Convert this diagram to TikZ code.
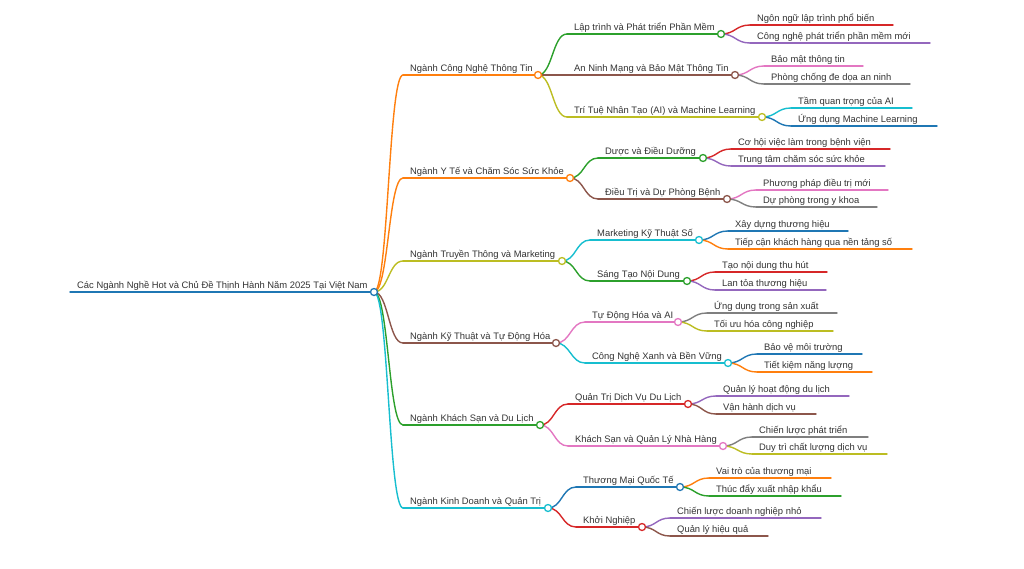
\documentclass[tikz,border=0pt]{standalone}
\usepackage{fontspec}
\setmainfont{Liberation Sans}
\usetikzlibrary{calc}
\pgfdeclarelayer{bg}
\pgfsetlayers{bg,main}
\definecolor{cblue}{HTML}{1F77B4}
\definecolor{corange}{HTML}{FF7F0E}
\definecolor{cgreen}{HTML}{2CA02C}
\definecolor{cred}{HTML}{D62728}
\definecolor{cpurple}{HTML}{9467BD}
\definecolor{cbrown}{HTML}{8C564B}
\definecolor{cpink}{HTML}{E377C2}
\definecolor{cgray}{HTML}{7F7F7F}
\definecolor{colive}{HTML}{BCBD22}
\definecolor{ccyan}{HTML}{17BECF}
\definecolor{ctext}{HTML}{333333}
\tikzset{
  lbl/.style={anchor=base west, inner sep=0pt, font=\fontsize{9.4}{11}\selectfont, text=ctext},
  edge/.style={line width=1.4pt, line cap=round},
  knob/.style={circle, fill=white, line width=1.3pt, minimum size=7pt, inner sep=0pt},
}
\newcommand\mmnode[6]{%
  \coordinate (#1s) at ({#3-7},#4);
  \coordinate (#1e) at (#5,#4);
  \node[lbl] (#1) at (#3,{#4-3.5}) {#6};
  \begin{pgfonlayer}{bg}\draw[edge,draw=#2] (#1s) -- (#1e);\end{pgfonlayer}}
\newcommand\mmknob[2]{\node[knob,draw=#2] (#1k) at (#1e) {};}
\newcommand\mmlink[3]{%
  \begin{pgfonlayer}{bg}\draw[edge,draw=#3] let \p1=(#1k.center), \p2=(#2s) in (\p1) .. controls ({0.5*\x1+0.5*\x2},\y1) and ({0.5*\x1+0.5*\x2},\y2) .. (\p2);\end{pgfonlayer}}
\begin{document}
\begin{tikzpicture}[x=1pt,y=-1pt]
\useasboundingbox (0,0) rectangle (1024,568);
% root
\mmnode{r}{cblue}{77}{292}{374}{Các Ngành Nghề Hot và Chủ Đề Thịnh Hành Năm 2025 Tại Việt Nam}
\mmknob{r}{cblue}
% level 1
\mmnode{a}{corange}{410}{75}{538}{Ngành Công Nghệ Thông Tin}\mmknob{a}{corange}
\mmnode{b}{corange}{410}{178}{570}{Ngành Y Tế và Chăm Sóc Sức Khỏe}\mmknob{b}{corange}
\mmnode{c}{colive}{410}{261}{562}{Ngành Truyền Thông và Marketing}\mmknob{c}{colive}
\mmnode{d}{cbrown}{410}{343}{556}{Ngành Kỹ Thuật và Tự Động Hóa}\mmknob{d}{cbrown}
\mmnode{e}{cgreen}{410}{425}{540}{Ngành Khách Sạn và Du Lịch}\mmknob{e}{cgreen}
\mmnode{f}{ccyan}{410}{508}{548}{Ngành Kinh Doanh và Quản Trị}\mmknob{f}{ccyan}
\mmlink{r}{a}{corange}\mmlink{r}{b}{corange}\mmlink{r}{c}{colive}
\mmlink{r}{d}{cbrown}\mmlink{r}{e}{cgreen}\mmlink{r}{f}{ccyan}
% level 2
\mmnode{aa}{cgreen}{574}{34}{721}{Lập trình và Phát triển Phần Mềm}\mmknob{aa}{cgreen}
\mmnode{ab}{cbrown}{574}{75}{735}{An Ninh Mạng và Bảo Mật Thông Tin}\mmknob{ab}{cbrown}
\mmnode{ac}{colive}{574}{117}{762}{Trí Tuệ Nhân Tạo (AI) và Machine Learning}\mmknob{ac}{colive}
\mmlink{a}{aa}{cgreen}\mmlink{a}{ab}{cbrown}\mmlink{a}{ac}{colive}
\mmnode{ba}{cgreen}{605}{158}{703}{Dược và Điều Dưỡng}\mmknob{ba}{cgreen}
\mmnode{bb}{cbrown}{605}{199}{727}{Điều Trị và Dự Phòng Bệnh}\mmknob{bb}{cbrown}
\mmlink{b}{ba}{cgreen}\mmlink{b}{bb}{cbrown}
\mmnode{ca}{ccyan}{597}{240}{699}{Marketing Kỹ Thuật Số}\mmknob{ca}{ccyan}
\mmnode{cb}{cgreen}{597}{281}{687}{Sáng Tạo Nội Dung}\mmknob{cb}{cgreen}
\mmlink{c}{ca}{ccyan}\mmlink{c}{cb}{cgreen}
\mmnode{da}{cpink}{592}{322}{678}{Tự Động Hóa và AI}\mmknob{da}{cpink}
\mmnode{db}{ccyan}{592}{363}{728}{Công Nghệ Xanh và Bền Vững}\mmknob{db}{ccyan}
\mmlink{d}{da}{cpink}\mmlink{d}{db}{ccyan}
\mmnode{ea}{cred}{575}{404}{688}{Quản Trị Dịch Vụ Du Lịch}\mmknob{ea}{cred}
\mmnode{eb}{cpink}{575}{446}{723}{Khách Sạn và Quản Lý Nhà Hàng}\mmknob{eb}{cpink}
\mmlink{e}{ea}{cred}\mmlink{e}{eb}{cpink}
\mmnode{fa}{cblue}{583}{487}{680}{Thương Mại Quốc Tế}\mmknob{fa}{cblue}
\mmnode{fb}{cred}{583}{527}{642}{Khởi Nghiệp}\mmknob{fb}{cred}
\mmlink{f}{fa}{cblue}\mmlink{f}{fb}{cred}
% level 3
\mmnode{aaa}{cred}{757}{25}{893}{Ngôn ngữ lập trình phổ biến}
\mmnode{aab}{cpurple}{757}{43}{930}{Công nghệ phát triển phần mềm mới}
\mmlink{aa}{aaa}{cred}\mmlink{aa}{aab}{cpurple}
\mmnode{aba}{cpink}{771}{66}{863}{Bảo mật thông tin}
\mmnode{abb}{cgray}{771}{84}{910}{Phòng chống đe dọa an ninh}
\mmlink{ab}{aba}{cpink}\mmlink{ab}{abb}{cgray}
\mmnode{aca}{ccyan}{798}{108}{912}{Tầm quan trọng của AI}
\mmnode{acb}{cblue}{798}{126}{937}{Ứng dụng Machine Learning}
\mmlink{ac}{aca}{ccyan}\mmlink{ac}{acb}{cblue}
\mmnode{baa}{cred}{738}{149}{890}{Cơ hội việc làm trong bệnh viện}
\mmnode{bab}{cpurple}{738}{166}{885}{Trung tâm chăm sóc sức khỏe}
\mmlink{ba}{baa}{cred}\mmlink{ba}{bab}{cpurple}
\mmnode{bba}{cpink}{763}{190}{888}{Phương pháp điều trị mới}
\mmnode{bbb}{cgray}{763}{207}{877}{Dự phòng trong y khoa}
\mmlink{bb}{bba}{cpink}\mmlink{bb}{bbb}{cgray}
\mmnode{caa}{cblue}{735}{231}{848}{Xây dựng thương hiệu}
\mmnode{cab}{corange}{735}{249}{912}{Tiếp cận khách hàng qua nền tảng số}
\mmlink{ca}{caa}{cblue}\mmlink{ca}{cab}{corange}
\mmnode{cba}{cred}{722}{272}{827}{Tạo nội dung thu hút}
\mmnode{cbb}{cpurple}{722}{290}{826}{Lan tỏa thương hiệu}
\mmlink{cb}{cba}{cred}\mmlink{cb}{cbb}{cpurple}
\mmnode{daa}{cgray}{714}{313}{837}{Ứng dụng trong sản xuất}
\mmnode{dab}{colive}{714}{331}{833}{Tối ưu hóa công nghiệp}
\mmlink{da}{daa}{cgray}\mmlink{da}{dab}{colive}
\mmnode{dba}{cblue}{764}{354}{862}{Bảo vệ môi trường}
\mmnode{dbb}{corange}{764}{372}{872}{Tiết kiệm năng lượng}
\mmlink{db}{dba}{cblue}\mmlink{db}{dbb}{corange}
\mmnode{eaa}{cpurple}{723}{396}{849}{Quản lý hoạt động du lịch}
\mmnode{eab}{cbrown}{723}{414}{816}{Vận hành dịch vụ}
\mmlink{ea}{eaa}{cpurple}\mmlink{ea}{eab}{cbrown}
\mmnode{eba}{cgray}{759}{437}{868}{Chiến lược phát triển}
\mmnode{ebb}{colive}{759}{454}{887}{Duy trì chất lượng dịch vụ}
\mmlink{eb}{eba}{cgray}\mmlink{eb}{ebb}{colive}
\mmnode{faa}{corange}{716}{478}{831}{Vai trò của thương mại}
\mmnode{fab}{cgreen}{716}{496}{841}{Thúc đẩy xuất nhập khẩu}
\mmlink{fa}{faa}{corange}\mmlink{fa}{fab}{cgreen}
\mmnode{fba}{cpurple}{677}{518}{821}{Chiến lược doanh nghiệp nhỏ}
\mmnode{fbb}{cbrown}{677}{536}{768}{Quản lý hiệu quả}
\mmlink{fb}{fba}{cpurple}\mmlink{fb}{fbb}{cbrown}
\end{tikzpicture}
\end{document}
